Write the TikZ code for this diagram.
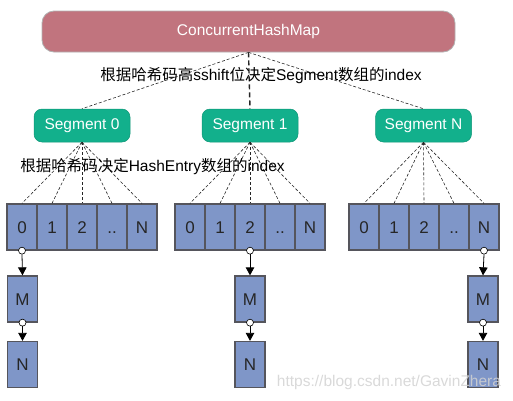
\documentclass[tikz,border=0pt]{standalone}
\usepackage{fontspec}
\setmainfont{Liberation Sans}
\newfontfamily\cjkfont{Noto Sans CJK SC}
\usetikzlibrary{arrows.meta}
\newcommand\zh[1]{{\cjkfont #1}}
\definecolor{mapred}{RGB}{193,116,126}
\definecolor{segteal}{RGB}{18,176,140}
\definecolor{cellblue}{RGB}{127,150,200}
\definecolor{celledge}{RGB}{85,85,92}
\begin{document}
\begin{tikzpicture}[x=1pt,y=-1pt,
  mapbox/.style={draw=gray!60, line width=0.8pt, fill=mapred, rounded corners=12pt, text=white,
    font=\fontsize{15.5}{18}\selectfont, minimum width=413pt, minimum height=41pt, inner sep=0pt},
  segbox/.style={draw=segteal!85!black, line width=0.5pt, fill=segteal, rounded corners=8pt, text=white,
    font=\fontsize{15.5}{18}\selectfont, minimum width=96pt, minimum height=33pt, inner sep=0pt},
  cell/.style={draw=celledge, line width=1.3pt, fill=cellblue, minimum width=30pt, minimum height=46pt,
    inner sep=0pt, font=\fontsize{17}{18}\selectfont, text=black!85, text height=12.3pt, text depth=0pt},
  hint/.style={font=\fontsize{15.5}{18}\selectfont, text=black, inner sep=0pt},
  fan/.style={densely dashed, line width=0.6pt, black!85},
  link/.style={-{Triangle[length=8pt,width=8.5pt]}, line width=0.8pt},
  ring/.style={circle, draw=black, fill=white, line width=0.6pt, minimum size=7pt, inner sep=0pt}]
\useasboundingbox (0,0) rectangle (513,400);

\node[mapbox] (map) at (248.5,31.5) {ConcurrentHashMap};
\node[segbox] (s0) at (82,125.5) {Segment 0};
\node[segbox] (s1) at (250,125.5) {Segment 1};
\node[segbox] (sn) at (423.5,125.5) {Segment N};

\draw[fan] (map.south) -- (s0.north);
\draw[fan] (map.south) -- (sn.north);
\draw[line width=1.4pt, dash pattern=on 5pt off 3pt, black!85] (map.south) -- (s1.north);

\foreach \arr/\x in {a/7,b/175,c/349}{
  \foreach \i/\t in {0/0,1/1,2/2,3/{..},4/N}{
    \node[cell] (\arr\i) at (\x+15+30*\i,227) {\t};
  }
}
\foreach \i in {0,...,4}{
  \draw[fan] (s0.south) -- (a\i.north);
  \draw[fan] (s1.south) -- (b\i.north);
  \draw[fan] (sn.south) -- (c\i.north);
}

\node[hint] (h1) at (261,76) {\zh{根据哈希码高}sshift\zh{位决定}Segment\zh{数组的}index};
\node[hint] (h2) at (152.5,167) {\zh{根据哈希码决定}HashEntry\zh{数组的}index};

% chains
\node[cell] (ma) at (22.5,299) {M};
\node[cell] (na) at (22.5,364.5) {N};
\node[cell] (mb) at (250,299) {M};
\node[cell] (nb) at (250,364.5) {N};
\node[cell] (mc) at (483,299) {M};
\node[cell] (nc) at (483,364.5) {N};

\node[ring] (ra0) at (a0.south) {};
\node[ring] (ra1) at (ma.south) {};
\node[ring] (rb0) at (b2.south) {};
\node[ring] (rb1) at (mb.south) {};
\node[ring] (rc0) at (c4.south) {};
\node[ring] (rc1) at (mc.south) {};
\draw[link] (ra0.south) -- (ma.north);
\draw[link] (ra1.south) -- (na.north);
\draw[link] (rb0.south) -- (mb.north);
\draw[link] (rb1.south) -- (nb.north);
\draw[link] (rc0.south) -- (mc.north);
\draw[link] (rc1.south) -- (nc.north);

\node[font=\fontsize{15.5}{18}\selectfont, text=gray!35, opacity=0.85, inner sep=0pt] (wm) at (389,382) {https://blog.csdn.net/GavinZhera};
\end{tikzpicture}
\end{document}
